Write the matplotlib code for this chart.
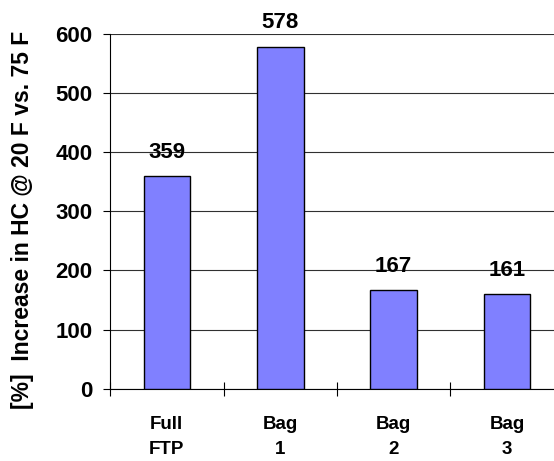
import matplotlib
matplotlib.use("Agg")
import matplotlib.pyplot as plt
import numpy as np

categories = ["Full\nFTP", "Bag\n1", "Bag\n2", "Bag\n3"]
values = [359, 578, 167, 161]
y_ticks = [0, 100, 200, 300, 400, 500, 600]
y_label = "[%]  Increase in HC @ 20 F vs. 75 F"

plt.rcParams['font.family'] = ['Liberation Sans', 'DejaVu Sans']
plt.rcParams['font.weight'] = 'bold'

fig = plt.figure(figsize=(5.54, 4.61), dpi=100)
ax = fig.add_axes([0.1986, 0.1562, 1.018 - 0.1986, 0.9273 - 0.1562])

x = np.arange(len(categories))
ax.bar(x, values, width=0.41, color='#8080FF', edgecolor='black', linewidth=1.0, zorder=3)

for xi, v in zip(x, values):
    ax.annotate(str(v), xy=(xi, v), xytext=(0, 13), textcoords='offset points',
                ha='center', va='baseline', fontsize=16, fontweight='bold', zorder=4)

ax.set_xlim(-0.5, len(categories) - 0.5)
ax.set_ylim(0, 600)
ax.set_yticks(y_ticks)
ax.set_yticklabels([str(t) for t in y_ticks], fontsize=16, fontweight='bold')
ax.tick_params(axis='y', direction='out', length=5, width=0.8, pad=7.5)

# category boundaries carry the tick marks, labels sit in the middle
ax.set_xticks(np.arange(len(categories) + 1) - 0.5)
ax.set_xticklabels([])
ax.tick_params(axis='x', direction='inout', length=9.5, width=0.8)
for xi, lab in zip(x, categories):
    ax.text(xi, -0.077, lab, transform=ax.get_xaxis_transform(), ha='center', va='top',
            fontsize=13.5, fontweight='bold', linespacing=1.6)

ax.yaxis.grid(True, color='#303030', linewidth=0.8, zorder=0)
ax.set_axisbelow(True)
for s in ['top', 'right']:
    ax.spines[s].set_visible(False)
ax.spines['left'].set_linewidth(0.8)
ax.spines['bottom'].set_linewidth(0.8)

fig.text(0.0415, 0.523, y_label, rotation=90, ha='center', va='center',
         fontsize=16.5, fontweight='bold')

fig.savefig("out.png", dpi=100)
